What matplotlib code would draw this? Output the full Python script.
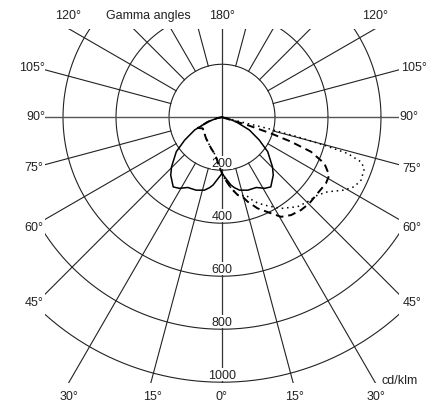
import numpy as np
import matplotlib
matplotlib.use("Agg")
import matplotlib.pyplot as plt

plt.rcParams['font.family'] = ['Liberation Sans', 'DejaVu Sans']

# C0/C180 plane (solid, symmetric) - gamma in degrees, intensity in cd/klm
c0_gamma = [0, 2.5, 7.5, 10, 13.5, 19.5, 26, 31, 35, 41.5, 45.5, 53, 58.5, 65, 72, 80, 90]
c0_cd = [212, 225, 258, 270, 283, 292, 295, 313, 321, 292, 267, 216, 165, 114, 56, 18, 0]

# common part of the dashed and dotted planes (negative gamma = left side)
shared_gamma = [-90, -80, -72, -66, -60, -37, -19, -10, -3, 0, 2.3, 7.4, 11.5, 14]
shared_cd = [0, 18, 56, 100, 84, 100, 125, 145, 187, 212, 231, 271, 300, 306]

# dashed plane, right branch
dashed_gamma = [16.9, 21.3, 27, 30.7, 35.2, 40.4, 45.4, 51.4, 57.5, 61.6, 65.7, 68.8, 70.5, 71.7, 72.9, 90]
dashed_cd = [333, 369, 407, 437, 452, 460, 463, 461, 465, 460, 424, 360, 276, 195, 101, 0]

# dotted plane, right branch
dotted_gamma = [17.1, 20.9, 25.7, 32.9, 40.2, 45.4, 50.8, 54.8, 59.2, 62.3, 65.7, 70.2, 72.2, 73.9, 74.7, 75.5, 76.2, 90]
dotted_cd = [308, 341, 368, 410, 442, 454, 465, 488, 537, 564, 576, 571, 551, 493, 400, 294, 177, 0]

rings = [200, 400, 600, 800, 1000]
ring_labels = ['200', '400', '600', '800', '1000']

W, H = 434, 410
FS = 9
fig = plt.figure(figsize=(W / 100, H / 100), dpi=100)
# plot area in pixels: x 45..399, y 30..384
ax = fig.add_axes([45 / W, 1 - 384 / H, 354 / W, 354 / H])
ax.set_xlim(-668, 668)
ax.set_ylim(-1003, 333)
ax.set_aspect('equal')
ax.axis('off')


def to_xy(gamma, cd):
    g = np.radians(np.asarray(gamma, dtype=float))
    r = np.asarray(cd, dtype=float)
    return r * np.sin(g), -r * np.cos(g)


grid_kw = dict(color='#222222', lw=0.8, zorder=1)

# rings
t = np.linspace(0, 2 * np.pi, 400)
for r in rings:
    ax.plot(r * np.cos(t), r * np.sin(t), **grid_kw)

# radial lines every 15 degrees, starting at the 200 ring
for a in range(0, 360, 15):
    if a % 90 == 0:
        continue
    xs, ys = to_xy([a, a], [rings[0], 2000])
    ax.plot(xs, ys, **grid_kw)
ax.plot([-2000, 2000], [0, 0], color='#555555', lw=1.0, zorder=1)
ax.plot([0, 0], [-2000, 2000], color='#333333', lw=0.9, zorder=1)

# ring value labels
for r, lab in zip(rings, ring_labels):
    ax.text(0, -(r - 28), lab, ha='center', va='center', fontsize=FS, color='#222222',
            zorder=2, bbox=dict(facecolor='white', edgecolor='none', pad=0.3))

# curves
x, y = to_xy(c0_gamma, c0_cd)
ax.plot(np.concatenate([-x[::-1], x]), np.concatenate([y[::-1], y]),
        color='black', lw=1.1, zorder=3)

x, y = to_xy(shared_gamma + dashed_gamma, shared_cd + dashed_cd)
ax.plot(x, y, color='black', lw=1.4, ls=(0, (4, 2.5)), zorder=3)

x, y = to_xy(shared_gamma + dotted_gamma, shared_cd + dotted_cd)
ax.plot(x, y, color='black', lw=1.1, ls=(0, (1, 2.5)), zorder=3)

# angle labels (pixel positions)
angle_labels = [
    ('120°', 68, 16), ('Gamma angles', 148, 16), ('180°', 222, 16), ('120°', 375, 16),
    ('105°', 32, 68), ('105°', 414, 68),
    ('90°', 36, 117), ('90°', 409, 117),
    ('75°', 34, 168), ('75°', 412, 169),
    ('60°', 34, 228), ('60°', 412, 228),
    ('45°', 34, 303), ('45°', 412, 303),
    ('30°', 69, 397), ('15°', 152, 397), ('0°', 222, 397), ('15°', 294, 397), ('30°', 376, 397),
    ('cd/klm', 400, 381),
]
for txt, px, py in angle_labels:
    fig.text(px / W, 1 - py / H, txt, ha='center', va='center', fontsize=FS, color='#222222')

fig.savefig('out.png', dpi=100, facecolor='white')
